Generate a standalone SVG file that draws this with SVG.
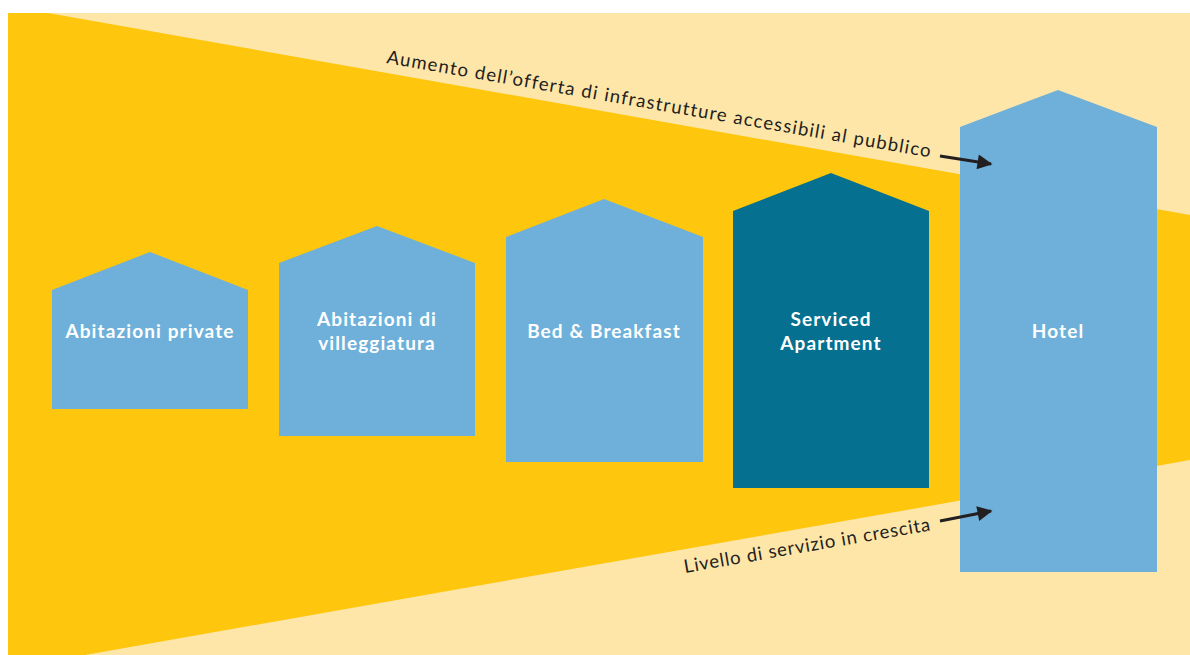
<svg xmlns="http://www.w3.org/2000/svg" width="1190" height="655" viewBox="0 0 1190 655">
  <defs>
    <marker id="arrow" viewBox="0 0 10 10" refX="9" refY="5" markerWidth="6.5" markerHeight="5" orient="auto" markerUnits="strokeWidth">
      <path d="M0,0 L10,5 L0,10 z" fill="#231f20"/>
    </marker>
  </defs>
  <style>
    .house { fill: #6eb0d9; }
    .house.dark { fill: #05708f; }
    .label { font-family: Lato, "Liberation Sans", sans-serif; font-weight: bold; font-size: 19px; fill: #ffffff; text-anchor: middle; letter-spacing: 1.1px; }
    .note { font-family: Lato, "Liberation Sans", sans-serif; font-size: 18.5px; fill: #231f20; letter-spacing: 0.4px; }
    .conn { stroke: #231f20; stroke-width: 3; fill: none; }
  </style>
  <rect x="8" y="13" width="1182" height="642" fill="#fee6a9"/>
  <polygon points="8,13 48,13 1190,215 1190,460 85,655 8,655" fill="#fec60c"/>

  <g id="node-abitazioni-private">
    <polygon class="house" points="52,290 150,252 248,290 248,409 52,409"/>
    <text class="label" x="150" y="338">Abitazioni private</text>
  </g>
  <g id="node-abitazioni-villeggiatura">
    <polygon class="house" points="279,263 377,226 475,263 475,436 279,436"/>
    <text class="label" x="377" y="326">Abitazioni di</text>
    <text class="label" x="377" y="350">villeggiatura</text>
  </g>
  <g id="node-bed-breakfast">
    <polygon class="house" points="506,237 604,199 703,237 703,462 506,462"/>
    <text class="label" x="604" y="338">Bed &amp; Breakfast</text>
  </g>
  <g id="node-serviced-apartment">
    <polygon class="house dark" points="733,211 831,173 929,211 929,488 733,488"/>
    <text class="label" x="831" y="326">Serviced</text>
    <text class="label" x="831" y="350">Apartment</text>
  </g>
  <g id="node-hotel">
    <polygon class="house" points="960,127 1058,90 1157,127 1157,572 960,572"/>
    <text class="label" x="1058" y="338">Hotel</text>
  </g>

  <g id="connectors">
    <line class="conn" x1="940" y1="156" x2="991" y2="164" marker-end="url(#arrow)"/>
    <line class="conn" x1="940" y1="521" x2="991" y2="511" marker-end="url(#arrow)"/>
  </g>

  <g id="annotations">
    <text class="note" x="386" y="63" transform="rotate(9.85 386 63)" textLength="552" lengthAdjust="spacing">Aumento dell’offerta di infrastrutture accessibili al pubblico</text>
    <text class="note" x="685" y="573" transform="rotate(-9.84 685 573)" textLength="250" lengthAdjust="spacing">Livello di servizio in crescita</text>
  </g>
</svg>
